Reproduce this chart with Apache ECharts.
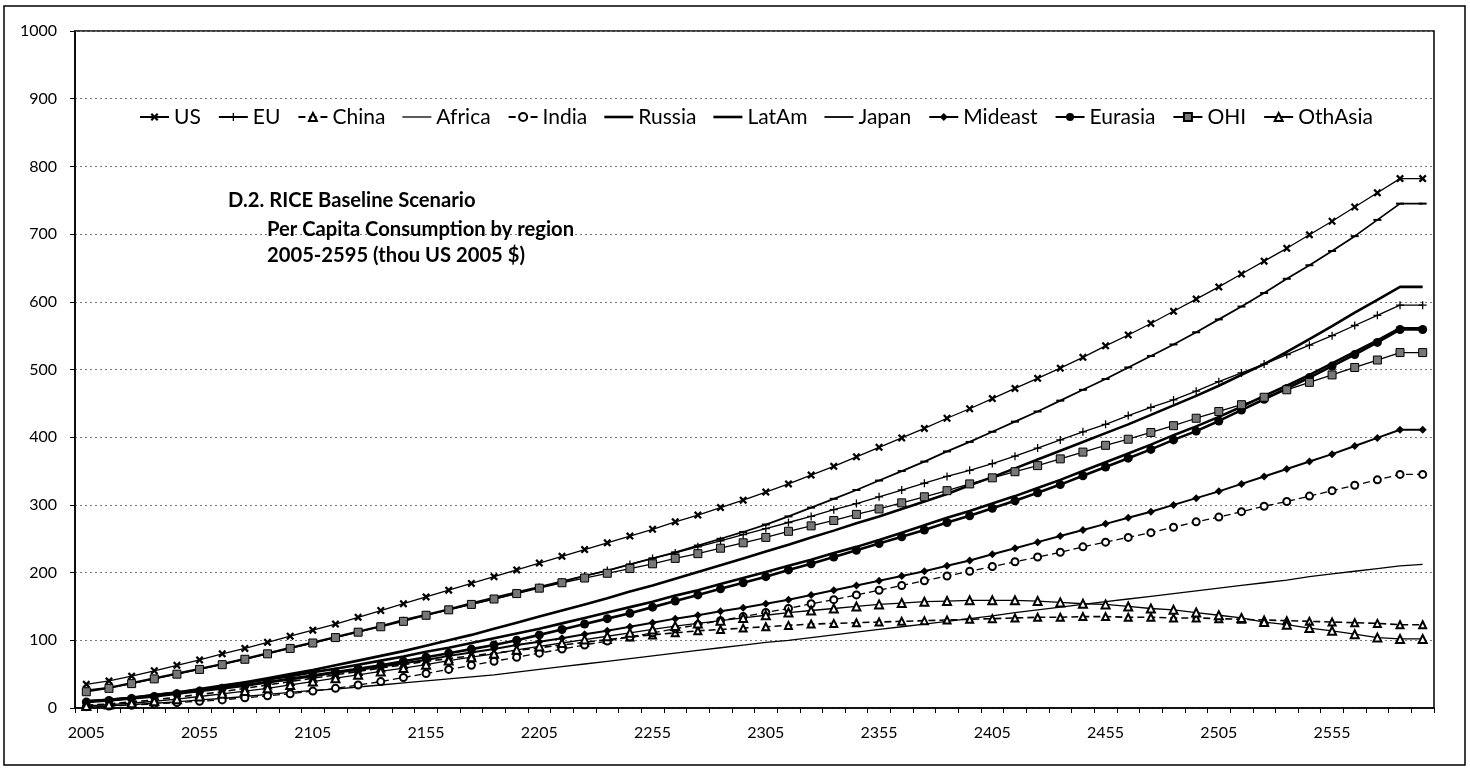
<!DOCTYPE html>
<html>
<head>
<meta charset="utf-8">
<script src="https://cdn.jsdelivr.net/npm/echarts@6/dist/echarts.min.js"></script>
<style>
  html, body { margin: 0; padding: 0; background: #fff; }
  #chart { width: 1470px; height: 769px; }
</style>
</head>
<body>
<div id="chart"></div>
<script>
// Decades 2005..2595
const years = [];
for (let y = 2005; y <= 2595; y += 10) years.push(String(y));

// Per capita consumption, thousands of 2005 US$
const US = [35, 40, 47, 55, 63, 71, 80, 88, 97, 106, 115, 124, 134, 144, 154, 164, 174, 184, 194, 204,
  214, 224, 234, 244, 254, 264, 275, 285, 296, 307, 319, 331, 344, 357, 371, 385, 399, 413, 428,
  442, 457, 472, 487, 502, 518, 535, 551, 568, 586, 604, 622, 641, 660, 679, 699, 719, 740, 761, 782, 782];
const EU = [25, 30, 36, 43, 50, 57, 65, 72, 80, 88, 96, 104, 112, 121, 129, 137, 145, 153, 161, 169,
  178, 186, 195, 203, 212, 221, 229, 238, 247, 256, 265, 274, 283, 293, 302, 312, 322, 332, 342,
  351, 361, 372, 384, 396, 408, 419, 432, 444, 455, 468, 482, 495, 508, 522, 536, 550, 565, 580, 595, 595];
const China = [4, 6, 9, 12, 16, 20, 24, 29, 34, 39, 44, 49, 54, 59, 64, 69, 73, 77, 81, 85,
  89, 93, 97, 101, 105, 108, 111, 114, 116, 118, 120, 122, 124, 125, 126, 127, 128, 129, 130,
  131, 132, 133, 134, 134, 135, 135, 134, 134, 133, 133, 132, 131, 130, 129, 128, 127, 126, 125, 123, 123];
const Africa = [1, 3, 5, 7, 9, 12, 14, 17, 20, 23, 26, 28, 31, 34, 37, 40, 43, 46, 49, 53,
  57, 61, 65, 69, 73, 77, 81, 85, 89, 93, 97, 100, 104, 108, 112, 116, 120, 124, 128, 132,
  136, 141, 145, 149, 153, 157, 161, 165, 169, 173, 177, 181, 185, 189, 194, 198, 202, 206, 210, 212];
const India = [2, 3, 4, 6, 8, 10, 12, 15, 18, 21, 25, 29, 34, 39, 45, 51, 57, 63, 69, 75,
  81, 87, 93, 99, 105, 111, 117, 123, 129, 135, 141, 147, 154, 160, 167, 174, 181, 188, 195,
  202, 209, 216, 223, 230, 238, 245, 252, 259, 267, 275, 282, 290, 298, 305, 313, 321, 329, 337, 345, 345];
const Russia = [10, 12, 15, 19, 23, 27, 32, 37, 42, 47, 53, 58, 64, 70, 76, 83, 89, 96, 103, 110,
  117, 125, 133, 141, 149, 157, 166, 174, 183, 192, 201, 210, 219, 229, 238, 248, 259, 270, 281,
  291, 302, 313, 325, 337, 350, 363, 376, 389, 403, 416, 430, 445, 461, 476, 492, 509, 526, 543, 561, 561];
const LatAm = [10, 12, 15, 19, 23, 28, 33, 38, 44, 50, 56, 63, 70, 77, 84, 92, 100, 108, 117, 126,
  135, 144, 153, 162, 172, 181, 191, 201, 211, 221, 231, 241, 252, 262, 273, 283, 294, 305, 316,
  329, 341, 354, 367, 380, 393, 406, 419, 433, 447, 461, 476, 492, 508, 526, 545, 564, 584, 603, 622, 622];
const Japan = [26, 30, 37, 44, 51, 58, 65, 73, 81, 89, 97, 105, 113, 121, 130, 138, 146, 155, 163, 171,
  179, 187, 195, 203, 212, 221, 230, 240, 250, 260, 271, 283, 296, 309, 322, 336, 350, 364, 379,
  393, 408, 423, 438, 454, 470, 486, 503, 520, 537, 555, 574, 593, 613, 634, 654, 675, 697, 721, 745, 745];
const Mideast = [9, 12, 15, 18, 22, 26, 30, 34, 38, 42, 47, 52, 56, 61, 66, 71, 77, 82, 87, 93,
  98, 103, 109, 114, 120, 126, 132, 137, 143, 148, 154, 160, 167, 174, 181, 188, 195, 202, 210,
  218, 227, 236, 245, 254, 263, 272, 281, 290, 300, 310, 320, 331, 342, 353, 364, 375, 387, 399, 411, 411];
const Eurasia = [9, 11, 14, 17, 21, 25, 29, 33, 38, 43, 48, 53, 58, 63, 69, 75, 81, 87, 93, 100,
  108, 116, 124, 132, 140, 149, 158, 167, 176, 185, 194, 204, 213, 223, 233, 243, 253, 263, 274,
  284, 295, 306, 318, 330, 343, 356, 369, 382, 396, 409, 424, 440, 456, 472, 488, 505, 522, 540, 559, 559];
const OHI = [24, 29, 36, 43, 50, 57, 64, 72, 80, 88, 96, 104, 112, 120, 128, 137, 145, 153, 161, 169,
  177, 185, 192, 199, 206, 213, 221, 228, 236, 244, 252, 261, 269, 277, 286, 294, 303, 312, 321,
  331, 340, 349, 358, 368, 378, 388, 397, 407, 417, 428, 438, 448, 459, 470, 481, 492, 503, 514, 525, 525];
const OthAsia = [3, 5, 7, 10, 13, 17, 21, 25, 29, 34, 39, 44, 49, 54, 59, 64, 70, 75, 80, 86,
  91, 96, 101, 106, 111, 116, 121, 125, 129, 133, 137, 141, 144, 147, 150, 153, 155, 157, 158,
  159, 159, 159, 158, 156, 154, 153, 150, 147, 145, 141, 137, 133, 127, 123, 118, 114, 109, 104, 102, 102];

const FONT = 'Lato, "Open Sans", "Noto Sans", sans-serif';

// marker shapes
const X_MARK = 'path://M2,0L5,3L8,0L10,2L7,5L10,8L8,10L5,7L2,10L0,8L3,5L0,2Z';
const PLUS_MARK = 'path://M4.2,0H5.8V4.2H10V5.8H5.8V10H4.2V5.8H0V4.2H4.2Z';
// plain-line legend keys
const KEY_THIN = 'path://M0,0H29V1.3H0Z';
const KEY_MID = 'path://M0,0H29V1.8H0Z';
const KEY_THICK = 'path://M0,0H29V2.6H0Z';

function line(name, data, opts) {
  return Object.assign({
    name: name,
    type: 'line',
    data: data,
    showAllSymbol: true,
    animation: false,
    symbol: 'none',
    symbolSize: 8,
    itemStyle: { color: '#000' },
    lineStyle: { color: '#000', width: 1.3, type: 'solid' },
    emphasis: { disabled: true }
  }, opts);
}

const series = [
  line('US', US, { symbol: X_MARK, symbolSize: 8, lineStyle: { color: '#000', width: 1.3 } }),
  line('EU', EU, { symbol: PLUS_MARK, symbolSize: 8, lineStyle: { color: '#000', width: 1.3 } }),
  line('China', China, { symbol: 'emptyTriangle', symbolSize: 7, lineStyle: { color: '#000', width: 1.6, type: [7, 4] } }),
  line('Africa', Africa, { lineStyle: { color: '#000', width: 1.3 } }),
  line('India', India, { symbol: 'emptyCircle', symbolSize: 7, lineStyle: { color: '#000', width: 1.3, type: [7, 4] } }),
  line('Russia', Russia, { lineStyle: { color: '#000', width: 2.6 } }),
  line('LatAm', LatAm, { lineStyle: { color: '#000', width: 2.6 } }),
  line('Japan', Japan, { symbol: 'rect', symbolSize: [8, 2], lineStyle: { color: '#000', width: 1.8 } }),
  line('Mideast', Mideast, { symbol: 'diamond', symbolSize: 8, lineStyle: { color: '#000', width: 2 } }),
  line('Eurasia', Eurasia, { symbol: 'circle', symbolSize: 9, lineStyle: { color: '#000', width: 2.6 } }),
  line('OHI', OHI, { symbol: 'rect', symbolSize: 8, itemStyle: { color: '#777', borderColor: '#000', borderWidth: 1 }, lineStyle: { color: '#000', width: 1.3 } }),
  line('OthAsia', OthAsia, { symbol: 'emptyTriangle', symbolSize: 8, lineStyle: { color: '#000', width: 1.3 } })
];

const chart = echarts.init(document.getElementById('chart'), null, { renderer: 'canvas' });
chart.setOption({
  animation: false,
  backgroundColor: '#fff',
  textStyle: { fontFamily: FONT },
  grid: {
    left: 75, right: 36, top: 31, bottom: 61,
    show: true, borderColor: '#000', borderWidth: 1.5, containLabel: false
  },
  legend: {
    data: [
      'US', 'EU', 'China',
      { name: 'Africa', icon: KEY_THIN },
      'India',
      { name: 'Russia', icon: KEY_THICK },
      { name: 'LatAm', icon: KEY_THICK },
      { name: 'Japan', icon: KEY_MID },
      'Mideast', 'Eurasia', 'OHI', 'OthAsia'
    ],
    left: 134, top: 100,
    itemWidth: 29, itemHeight: 10, itemGap: 17,
    textStyle: { fontFamily: FONT, fontSize: 21, color: '#000', lineHeight: 24 },
    selectedMode: false
  },
  xAxis: {
    type: 'category',
    data: years,
    boundaryGap: true,
    axisLine: { lineStyle: { color: '#000', width: 1.5 } },
    axisTick: { show: true, interval: 0, length: 5, lineStyle: { color: '#000' } },
    axisLabel: { interval: 4, margin: 17, fontFamily: FONT, fontSize: 16, color: '#000' },
    splitLine: { show: false }
  },
  yAxis: {
    type: 'value',
    min: 0, max: 1000, interval: 100,
    axisLine: { show: true, lineStyle: { color: '#000', width: 1.5 } },
    axisTick: { show: true, length: 5, lineStyle: { color: '#000' } },
    axisLabel: { margin: 18, fontFamily: FONT, fontSize: 16, color: '#000', formatter: function (v) { return String(v); } },
    splitLine: { show: true, lineStyle: { color: '#777', width: 1, type: [2, 3] } }
  },
  graphic: [
    { type: 'rect', z: 100, silent: true, shape: { x: 4, y: 6, width: 1461, height: 759 },
      style: { fill: 'none', stroke: '#000', lineWidth: 1.5 } },
    { type: 'text', z: 100, x: 228, y: 200, silent: true,
      style: { text: 'D.2. RICE Baseline Scenario', fontFamily: FONT, fontWeight: 'bold', fontSize: 20.2, fill: '#000', verticalAlign: 'middle' } },
    { type: 'text', z: 100, x: 267, y: 229, silent: true,
      style: { text: 'Per Capita Consumption by region', fontFamily: FONT, fontWeight: 'bold', fontSize: 20.2, fill: '#000', verticalAlign: 'middle' } },
    { type: 'text', z: 100, x: 267, y: 255, silent: true,
      style: { text: '2005-2595 (thou US 2005 $)', fontFamily: FONT, fontWeight: 'bold', fontSize: 20.2, fill: '#000', verticalAlign: 'middle' } }
  ],
  series: series
});
</script>
</body>
</html>
